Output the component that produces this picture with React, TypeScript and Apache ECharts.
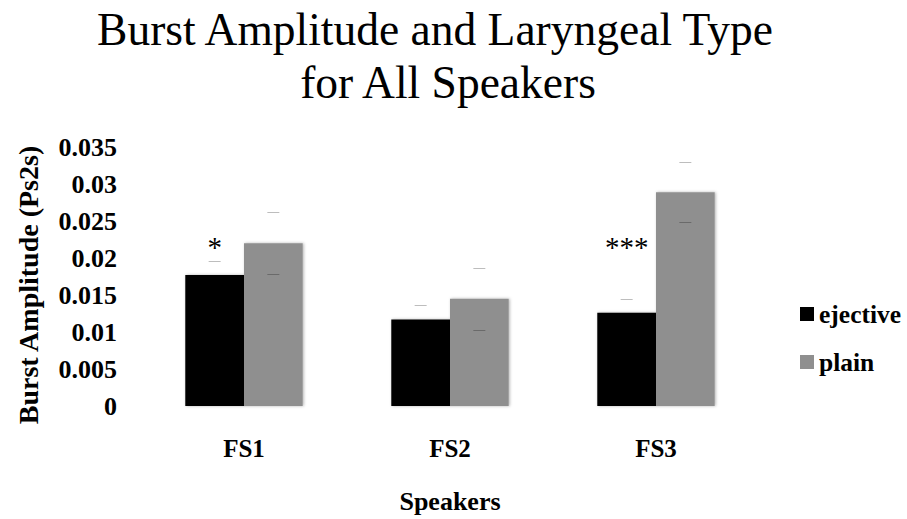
import React, { useEffect, useRef } from "react";
import * as echarts from "echarts";

const categories = ["FS1", "FS2", "FS3"];
const ejective = [0.0177, 0.0117, 0.0126];
const plain = [0.022, 0.0145, 0.0289];
const ejectiveErr = [0.0019, 0.0019, 0.0019];
const plainErr = [0.0042, 0.0042, 0.0041];
const significance = ["*", "", "***"];
const sigLevel = 0.0215;
const titleLines = ["Burst Amplitude and Laryngeal Type", "for All Speakers"];
const yAxisName = "Burst Amplitude (Ps2s)";

const FONT = "'Liberation Serif', 'Times New Roman', serif";
const GAP = 0.43;

function barCenter(api: any, side: number) {
  const band = api.size([1, 0])[0];
  const bw = (band * (1 - GAP)) / 2;
  return side * (bw / 2);
}

function errSeries(name: string, vals: number[], errs: number[], side: number) {
  return {
    type: "custom",
    name,
    silent: true,
    z: 5,
    data: vals.map((v, i) => [i, v, errs[i]]),
    renderItem: (params: any, api: any) => {
      const i = api.value(0);
      const v = api.value(1);
      const e = api.value(2);
      const top = api.coord([i, v + e]);
      const bot = api.coord([i, v - e]);
      const x = top[0] + barCenter(api, side);
      const hw = 6;
      const st = { stroke: "rgba(0,0,0,0.26)", lineWidth: 1 };
      return {
        type: "group",
        children: [
          { type: "line", shape: { x1: x - hw, y1: Math.round(top[1]) + 0.5, x2: x + hw, y2: Math.round(top[1]) + 0.5 }, style: st },
          { type: "line", shape: { x1: x - hw, y1: Math.round(bot[1]) + 0.5, x2: x + hw, y2: Math.round(bot[1]) + 0.5 }, style: st },
        ],
      };
    },
  };
}

export default function App() {
  const ref = useRef<HTMLDivElement>(null);
  useEffect(() => {
    if (!ref.current) return;
    const chart = echarts.init(ref.current, null, { renderer: "svg" });
    const barStyle = (color: string) => ({
      color,
      shadowBlur: 3,
      shadowColor: "rgba(0,0,0,0.3)",
      shadowOffsetX: 1,
      shadowOffsetY: 0,
    });
    chart.setOption({
      animation: false,
      backgroundColor: "#ffffff",
      textStyle: { fontFamily: FONT },
      graphic: [
        {
          type: "text",
          x: 435,
          y: 29,
          style: { text: titleLines[0], align: "center", verticalAlign: "middle", font: `45.5px ${FONT}`, fill: "#000" },
        },
        {
          type: "text",
          x: 448,
          y: 82,
          style: { text: titleLines[1], align: "center", verticalAlign: "middle", font: `45.5px ${FONT}`, fill: "#000" },
        },
        {
          type: "text",
          x: 28,
          y: 285,
          rotation: Math.PI / 2,
          style: { text: yAxisName, align: "center", verticalAlign: "middle", font: `bold 28px ${FONT}`, fill: "#000" },
        },
      ],
      grid: { left: 141, right: 148, top: 147, bottom: 107, containLabel: false },
      legend: {
        data: ["ejective", "plain"],
        orient: "vertical",
        left: 800,
        top: 301,
        padding: 0,
        itemWidth: 14,
        itemHeight: 14,
        itemGap: 22,
        icon: "rect",
        textStyle: { fontFamily: FONT, fontWeight: "bold", fontSize: 25.5, color: "#000", padding: [0, 0, 0, 0] },
      },
      xAxis: {
        type: "category",
        data: categories,
        axisLine: { show: false },
        axisTick: { show: false },
        axisLabel: { fontFamily: FONT, fontWeight: "bold", fontSize: 25, color: "#000", margin: 30 },
        name: "Speakers",
        nameLocation: "middle",
        nameGap: 82,
        nameTextStyle: { fontFamily: FONT, fontWeight: "bold", fontSize: 26, color: "#000" },
      },
      yAxis: {
        type: "value",
        min: 0,
        max: 0.035,
        interval: 0.005,
        splitLine: { show: false },
        axisLine: { show: false },
        axisTick: { show: false },
        axisLabel: {
          fontFamily: FONT,
          fontWeight: "bold",
          fontSize: 26,
          color: "#000",
          margin: 24,
          formatter: (v: number) => String(+v.toFixed(3)),
        },
      },
      series: [
        {
          name: "ejective",
          type: "bar",
          data: ejective,
          barGap: "0%",
          barCategoryGap: `${GAP * 100}%`,
          itemStyle: barStyle("#000000"),
        },
        {
          name: "plain",
          type: "bar",
          data: plain,
          itemStyle: barStyle("#8f8f8f"),
        },
        errSeries("ejective err", ejective, ejectiveErr, -1),
        errSeries("plain err", plain, plainErr, 1),
        {
          type: "custom",
          name: "significance",
          silent: true,
          z: 6,
          data: significance.map((s, i) => [i, sigLevel, s]),
          renderItem: (params: any, api: any) => {
            const i = api.value(0);
            const s = significance[i];
            if (!s) return null;
            const p = api.coord([i, api.value(1)]);
            const x = p[0] + barCenter(api, -1);
            return {
              type: "text",
              x,
              y: p[1],
              style: { text: s, align: "center", verticalAlign: "middle", font: `29px ${FONT}`, fill: "#000" },
            };
          },
        },
      ],
    });
    return () => chart.dispose();
  }, []);
  return <div ref={ref} style={{ position: "fixed", left: 0, top: 0, width: 907, height: 519 }} />;
}
